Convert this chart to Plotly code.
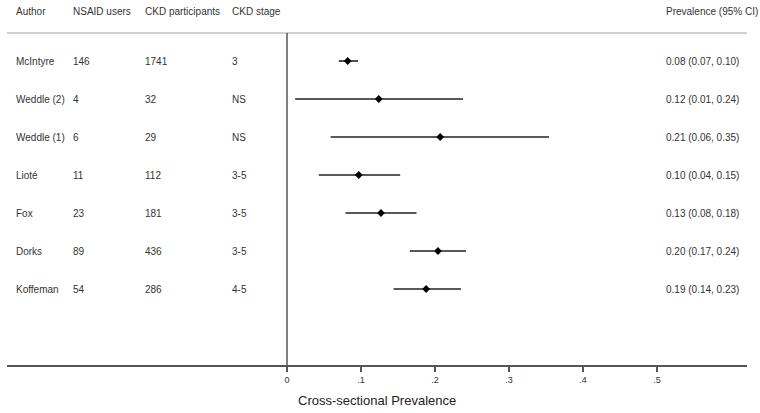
import plotly.graph_objects as go

# study data
authors = ["McIntyre", "Weddle (2)", "Weddle (1)", "Lioté", "Fox", "Dorks", "Koffeman"]
nsaid_users = ["146", "4", "6", "11", "23", "89", "54"]
ckd_participants = ["1741", "32", "29", "112", "181", "436", "286"]
ckd_stage = ["3", "NS", "NS", "3-5", "3-5", "3-5", "4-5"]
prevalence = [0.082, 0.124, 0.207, 0.097, 0.127, 0.204, 0.188]
ci_low = [0.070, 0.011, 0.059, 0.043, 0.079, 0.166, 0.144]
ci_high = [0.096, 0.238, 0.354, 0.153, 0.175, 0.242, 0.235]
prev_labels = ["0.08 (0.07, 0.10)", "0.12 (0.01, 0.24)", "0.21 (0.06, 0.35)",
               "0.10 (0.04, 0.15)", "0.13 (0.08, 0.18)", "0.20 (0.17, 0.24)",
               "0.19 (0.14, 0.23)"]
tick_vals = [0, 0.1, 0.2, 0.3, 0.4, 0.5]
tick_text = ["0", ".1", ".2", ".3", ".4", ".5"]

rows = list(range(len(authors)))
font = "Liberation Sans, Arial, sans-serif"
txt_color = "#333333"
W, H = 760, 413

fig = go.Figure()

fig.add_trace(go.Scatter(
    x=prevalence, y=rows, mode="markers",
    marker=dict(symbol="diamond", size=6, color="black"),
    error_x=dict(type="data", symmetric=False,
                 array=[h - p for h, p in zip(ci_high, prevalence)],
                 arrayminus=[p - l for p, l in zip(prevalence, ci_low)],
                 width=0, thickness=1.6, color="#222222"),
    showlegend=False, hoverinfo="skip"
))

# table columns (left edge in pixels)
columns = [
    ("Author", authors, 14),
    ("NSAID users", nsaid_users, 71),
    ("CKD participants", ckd_participants, 143),
    ("CKD stage", ckd_stage, 230),
    ("Prevalence (95% CI)", prev_labels, 664),
]
x0_px, x1_px = 7, 747

for header, values, xpx in columns:
    fig.add_annotation(x=xpx / W, xref="paper", y=-1.29, yref="y",
                       text=header, showarrow=False, xanchor="left", yanchor="middle",
                       font=dict(size=10, color=txt_color, family=font))
    for i, v in enumerate(values):
        fig.add_annotation(x=xpx / W, xref="paper", y=rows[i], yref="y",
                           text=v, showarrow=False, xanchor="left", yanchor="middle",
                           font=dict(size=10, color=txt_color, family=font))

# header separator and zero line
fig.add_shape(type="line", xref="paper", yref="y", x0=x0_px / W, x1=x1_px / W,
              y0=-0.737, y1=-0.737, line=dict(color="#d0d0d0", width=2))
fig.add_shape(type="line", xref="x", yref="y", x0=0, x1=0, y0=-0.737, y1=8.0,
              line=dict(color="#555555", width=1.5))

fig.add_annotation(x=377 / W, xref="paper", y=-0.0986, yref="paper",
                   text="Cross-sectional Prevalence", showarrow=False,
                   xanchor="center", yanchor="middle",
                   font=dict(size=13, color="#222222", family=font))

fig.update_layout(
    width=W, height=H,
    margin=dict(l=0, r=0, t=0, b=48),
    plot_bgcolor="white", paper_bgcolor="white",
    font=dict(family=font, color=txt_color),
)
fig.update_xaxes(
    domain=[x0_px / W, x1_px / W],
    range=[(x0_px - 287) / 740, (x1_px - 287) / 740],
    showgrid=False, zeroline=False, showline=True, linecolor="#555555", linewidth=1.5,
    ticks="outside", ticklen=5, tickcolor="#555555", tickwidth=1.5,
    tickvals=tick_vals, ticktext=tick_text, tickfont=dict(size=9, color=txt_color)
)
fig.update_yaxes(range=[8.0, -61 / 38], showgrid=False, zeroline=False,
                 showticklabels=False, showline=False)

fig.write_html("out.html", config={"displayModeBar": False},
               post_script="document.body.style.margin='0';")
